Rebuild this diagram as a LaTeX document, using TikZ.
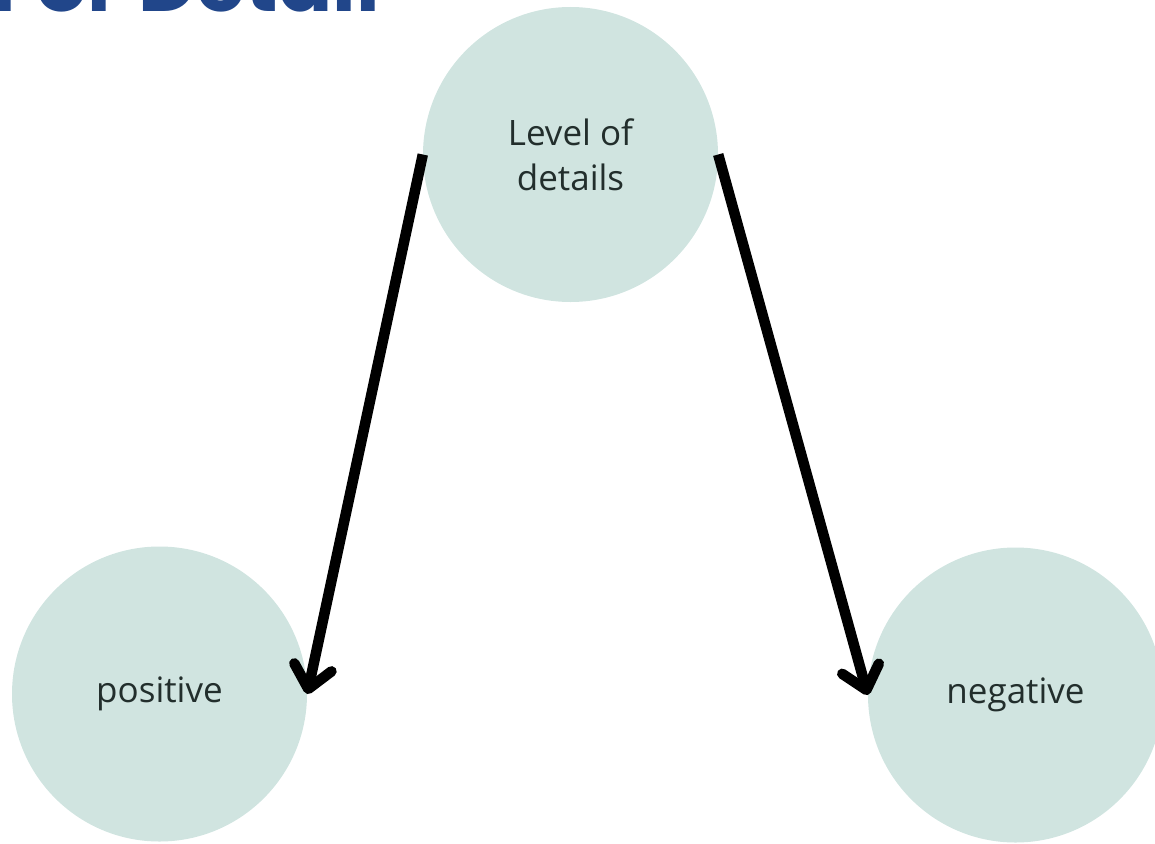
\documentclass[tikz,border=0pt]{standalone}
\usepackage{fontspec}
\setmainfont{Open Sans}
\newfontfamily\titlefont{Poppins}[BoldFont={* Bold}]
\usetikzlibrary{arrows.meta}
\definecolor{bubble}{RGB}{208,228,224}
\definecolor{labelink}{RGB}{34,46,44}
\definecolor{titleblue}{RGB}{33,70,138}
\tikzset{
  bubble/.style={circle, fill=bubble, minimum size=295pt, inner sep=0pt,
    text=labelink, font=\fontsize{35}{45}\selectfont, align=center},
  link/.style={line width=10.5pt, line cap=butt,
    -{Straight Barb[length=22pt, width=38pt, round]}}
}
\begin{document}
\begin{tikzpicture}[x=1pt, y=-1pt]
  \useasboundingbox (0,0) rectangle (1155,843);
  \clip (0,0) rectangle (1155,843);
  % heading, mostly above the frame
  \node[anchor=base east, text=titleblue, inner sep=0pt,
        font=\titlefont\bfseries\fontsize{80}{80}\selectfont]
        (title) at (380,12) {For Detail};
  % bubbles
  \node[bubble] (top) at (570.5,154.5) {Level of\\details};
  \node[bubble] (pos) at (159.5,694) {positive};
  \node[bubble] (neg) at (1015.5,695) {negative};
  % arrows
  \draw[link] (top.west) -- (pos.east);
  \draw[link] (top.east) -- (neg.west);
\end{tikzpicture}
\end{document}
